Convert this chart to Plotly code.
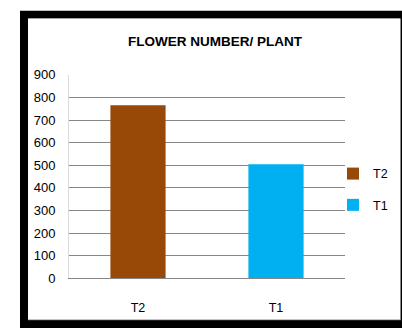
import plotly.graph_objects as go

categories = ["T2", "T1"]
values = [765, 505]
colors = ["#984807", "#00B0F0"]
y_ticks = [0, 100, 200, 300, 400, 500, 600, 700, 800, 900]

W, H = 402, 336
def px(x):
    return x / W
def py(y):
    return (H - y) / H

font_family = "Liberation Sans, Arial, sans-serif"

fig = go.Figure()
for c, v, col in zip(categories, values, colors):
    fig.add_trace(go.Bar(
        x=[c], y=[v], name=c, marker=dict(color=col, line=dict(width=0)),
        width=0.4, legendgroup=c,
    ))

fig.update_layout(
    width=W, height=H,
    margin=dict(l=0, r=0, t=0, b=0),
    paper_bgcolor="white",
    plot_bgcolor="rgba(0,0,0,0)",
    barmode="overlay",
    font=dict(family=font_family, size=13, color="#000000"),
    title=dict(text="<b>FLOWER NUMBER/ PLANT</b>", x=px(215), xanchor="center",
               y=py(41), yanchor="middle",
               font=dict(family=font_family, size=13.5, color="#000000")),
    xaxis=dict(domain=[px(69), px(345)], categoryorder="array", categoryarray=categories,
               range=[-0.5, 1.5], showline=True, linecolor="#868686", linewidth=1,
               ticks="", showgrid=False, tickfont=dict(size=12.5), ticklabelstandoff=18),
    yaxis=dict(domain=[py(284), py(71)], range=[0, 900], tickvals=y_ticks,
               showgrid=True, gridcolor="#868686", gridwidth=1, zeroline=False,
               showline=True, linecolor="#D9D9D9", linewidth=1, ticks="",
               tickfont=dict(size=13), ticklabelstandoff=10),
    legend=dict(x=px(333), y=py(191), xanchor="left", yanchor="middle",
                traceorder="grouped", tracegroupgap=12, font=dict(size=12.5),
                bgcolor="rgba(0,0,0,0)", itemwidth=30),
    showlegend=True,
    shapes=[
        dict(type="rect", xref="paper", yref="paper", x0=px(20), x1=px(402), y0=py(336), y1=py(4),
             fillcolor="black", line=dict(width=0), layer="below"),
        dict(type="rect", xref="paper", yref="paper", x0=px(28), x1=px(401), y0=py(328), y1=py(12),
             fillcolor="#888888", line=dict(width=0), layer="below"),
        dict(type="rect", xref="paper", yref="paper", x0=px(28), x1=px(400), y0=py(327), y1=py(12),
             fillcolor="white", line=dict(width=0), layer="below"),
    ],
)

fig.write_html("out.html")
